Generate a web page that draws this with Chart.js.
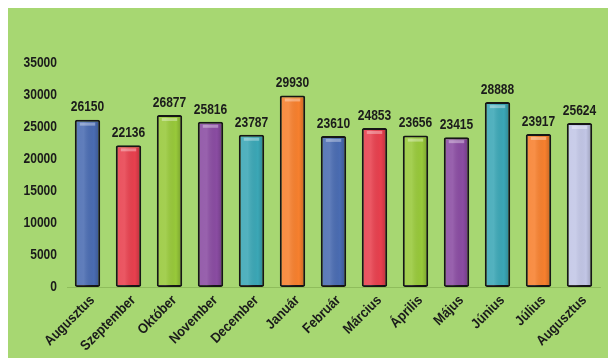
<!DOCTYPE html>
<html>
<head>
<meta charset="utf-8">
<script src="https://cdn.jsdelivr.net/npm/chart.js@4/dist/chart.umd.min.js"></script>
<style>
  html, body { margin: 0; padding: 0; background: #ffffff; }
  #wrap { width: 608px; height: 358px; position: relative; }
</style>
</head>
<body>
<div id="wrap"><canvas id="chart" width="608" height="358"></canvas></div>
<script>
  const months = ["Augusztus", "Szeptember", "Október", "November", "December", "Január",
    "Február", "Március", "Április", "Május", "Június", "Július", "Augusztus"];
  const visitors = [26150, 22136, 26877, 25816, 23787, 29930, 23610, 24853, 23656, 23415, 28888, 23917, 25624];
  const yTicks = [0, 5000, 10000, 15000, 20000, 25000, 30000, 35000];
  const barColors = ["#4a6cb2", "#e8404e", "#98c93a", "#8a4ca2", "#3ba7b6", "#f7802e",
    "#4a6cb2", "#e8404e", "#98c93a", "#8a4ca2", "#3ba7b6", "#f7802e", "#c2c6e6"];

  const FONT = "'Liberation Sans', Arial, sans-serif";
  const INK = "#1b1b1b";

  // the original uses a narrow DIN-like face, so squeeze the text a bit
  function narrowText(ctx, text, x, y, size, squeeze, align, baseline, angle) {
    ctx.save();
    ctx.translate(x, y);
    if (angle) ctx.rotate(angle);
    ctx.scale(squeeze, 1);
    ctx.font = "bold " + size + "px " + FONT;
    ctx.fillStyle = INK;
    ctx.textAlign = align;
    ctx.textBaseline = baseline;
    ctx.fillText(text, 0, 0);
    ctx.restore();
  }

  // green panel behind the chart
  const panel = {
    id: "panel",
    beforeDraw(chart) {
      const { ctx, width, height } = chart;
      ctx.save();
      ctx.fillStyle = "#a7d772";
      ctx.fillRect(8, 8, width - 8, height - 8);
      ctx.restore();
    },
  };

  // axis labels
  const axisText = {
    id: "axisText",
    afterDraw(chart) {
      const { ctx, chartArea } = chart;
      const xs = chart.scales.x, ys = chart.scales.y;
      yTicks.forEach((v) => {
        narrowText(ctx, String(v), 57, ys.getPixelForValue(v), 14, 0.86, "right", "middle");
      });
      months.forEach((m, i) => {
        const x = xs.getPixelForValue(i);
        narrowText(ctx, m, x + 5, chartArea.bottom + 11, 14, 0.9, "right", "middle", -Math.PI / 4);
      });
    },
  };

  // glossy highlight + value labels on top of each bar
  const barExtras = {
    id: "barExtras",
    afterDatasetsDraw(chart) {
      const { ctx } = chart;
      const meta = chart.getDatasetMeta(0);
      meta.data.forEach((bar, i) => {
        const left = bar.x - bar.width / 2;
        const h = bar.base - bar.y;
        ctx.save();
        const g = ctx.createLinearGradient(left, 0, left + bar.width, 0);
        g.addColorStop(0, "rgba(255,255,255,0.10)");
        g.addColorStop(0.35, "rgba(255,255,255,0.12)");
        g.addColorStop(0.75, "rgba(0,0,0,0.0)");
        g.addColorStop(1, "rgba(0,0,0,0.22)");
        ctx.fillStyle = g;
        ctx.fillRect(left + 2, bar.y + 2, bar.width - 4, h - 3);
        ctx.fillStyle = "rgba(255,255,255,0.35)";
        ctx.fillRect(left + 5, bar.y + 3, bar.width - 10, 3);
        ctx.restore();
        narrowText(ctx, String(visitors[i]), bar.x, bar.y - 5, 14, 0.86, "center", "bottom");
      });
    },
  };

  new Chart(document.getElementById("chart"), {
    type: "bar",
    data: {
      labels: months,
      datasets: [{
        data: visitors,
        backgroundColor: barColors,
        borderColor: "#161616",
        borderWidth: 2,
        borderRadius: 2,
        borderSkipped: false,
        categoryPercentage: 1,
        barPercentage: 0.62,
      }],
    },
    options: {
      responsive: false,
      animation: false,
      events: [],
      layout: { padding: { top: 63, right: 8, bottom: 0, left: 0 } },
      plugins: {
        legend: { display: false },
        tooltip: { enabled: false },
      },
      scales: {
        x: {
          grid: { display: false },
          border: { display: true, color: "#8fbd5c", width: 1 },
          ticks: { display: false },
          afterFit(scale) { scale.height = 71; },
        },
        y: {
          min: 0,
          max: 35000,
          grid: { display: false },
          border: { display: false },
          ticks: { display: false, stepSize: 5000 },
          afterFit(scale) { scale.width = 67; },
        },
      },
    },
    plugins: [panel, barExtras, axisText],
  });
</script>
</body>
</html>
